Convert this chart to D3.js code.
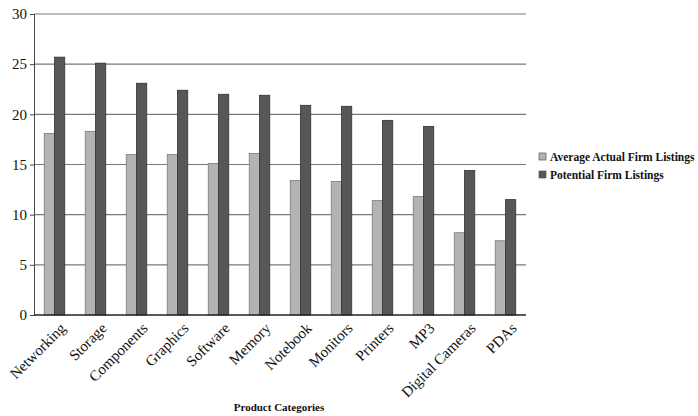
<!DOCTYPE html>
<meta charset="utf-8">
<html lang="en">
<head>
    <title>Product Categories</title>
    <script src="https://d3js.org/d3.v7.min.js"></script>
</head>
<style>
    body { margin: 0; background: #fff; }
    text { font-family: "Liberation Serif", "Times New Roman", serif; fill: #111; }
    .tick text { font-size: 15px; }
    .grid line { stroke: #7a7a7a; stroke-width: 1.2px; }
    .legend text { font-size: 11.5px; font-weight: bold; }
</style>
<body>
<script>
    var categories = ["Networking", "Storage", "Components", "Graphics", "Software", "Memory",
        "Notebook", "Monitors", "Printers", "MP3", "Digital Cameras", "PDAs"];
    var actual = [18.1, 18.3, 16.0, 16.0, 15.1, 16.1, 13.4, 13.3, 11.4, 11.8, 8.2, 7.4];
    var potential = [25.7, 25.1, 23.1, 22.4, 22.0, 21.9, 20.9, 20.8, 19.4, 18.8, 14.4, 11.5];
    var seriesNames = ["Average Actual Firm Listings", "Potential Firm Listings"];
    var yTicks = [0, 5, 10, 15, 20, 25, 30];
    var colors = ["#b3b3b3", "#575757"];

    var width = 698, height = 416;
    var margin = {left: 34, right: 172, top: 14, bottom: 101};

    var svg = d3.select("body").append("svg").attr("width", width).attr("height", height);

    var x = d3.scaleBand().domain(categories)
        .range([margin.left, width - margin.right]).paddingInner(0.5).paddingOuter(0.25);
    var xs = d3.scaleBand().domain([0, 1]).range([0, x.bandwidth()]);
    var y = d3.scaleLinear().domain([0, 30]).range([height - margin.bottom, margin.top]);

    // gridlines
    svg.append("g").attr("class", "grid")
        .selectAll("line").data(yTicks.slice(1)).enter().append("line")
        .attr("x1", margin.left).attr("x2", width - margin.right)
        .attr("y1", d => y(d)).attr("y2", d => y(d));

    var rows = categories.map((c, i) => ({cat: c, vals: [actual[i], potential[i]]}));

    svg.append("g").selectAll("g").data(rows).enter().append("g")
        .attr("transform", d => "translate(" + x(d.cat) + ",0)")
        .selectAll("rect").data(d => d.vals.map((v, k) => ({k: k, v: v}))).enter().append("rect")
        .attr("x", d => xs(d.k))
        .attr("width", xs.bandwidth())
        .attr("y", d => y(d.v))
        .attr("height", d => y(0) - y(d.v))
        .attr("fill", d => colors[d.k])
        .attr("stroke", d => d.k ? "#333" : "#7a7a7a")
        .attr("stroke-width", 0.8);

    // y axis
    var yAxis = svg.append("g").attr("transform", "translate(" + margin.left + ",0)")
        .call(d3.axisLeft(y).tickValues(yTicks).tickSize(4).tickPadding(3));
    yAxis.select(".domain").attr("stroke", "#444");
    yAxis.selectAll(".tick line").attr("stroke", "#444");

    // x axis
    var xAxis = svg.append("g").attr("transform", "translate(0," + y(0) + ")")
        .call(d3.axisBottom(x).tickSize(0).tickSizeOuter(0));
    xAxis.select(".domain").attr("stroke", "#222").attr("stroke-width", 1.3)
        .attr("d", "M" + margin.left + ",0H" + (width - margin.right));
    xAxis.selectAll(".tick text")
        .attr("text-anchor", "end")
        .attr("dx", 0).attr("dy", 0)
        .attr("transform", "translate(10,12) rotate(-45)");

    svg.append("text").attr("x", 279).attr("y", 411)
        .attr("text-anchor", "middle").style("font-size", "11px").style("font-weight", "bold")
        .text("Product Categories");

    // legend
    var legend = svg.append("g").attr("class", "legend")
        .selectAll("g").data(seriesNames).enter().append("g")
        .attr("transform", (d, i) => "translate(539," + (153 + i * 18) + ")");
    legend.append("rect").attr("width", 7).attr("height", 7)
        .attr("fill", (d, i) => colors[i]).attr("stroke", "#555").attr("stroke-width", 0.7);
    legend.append("text").attr("x", 11).attr("y", 7.5).text(d => d);
</script>
</body>
</html>
